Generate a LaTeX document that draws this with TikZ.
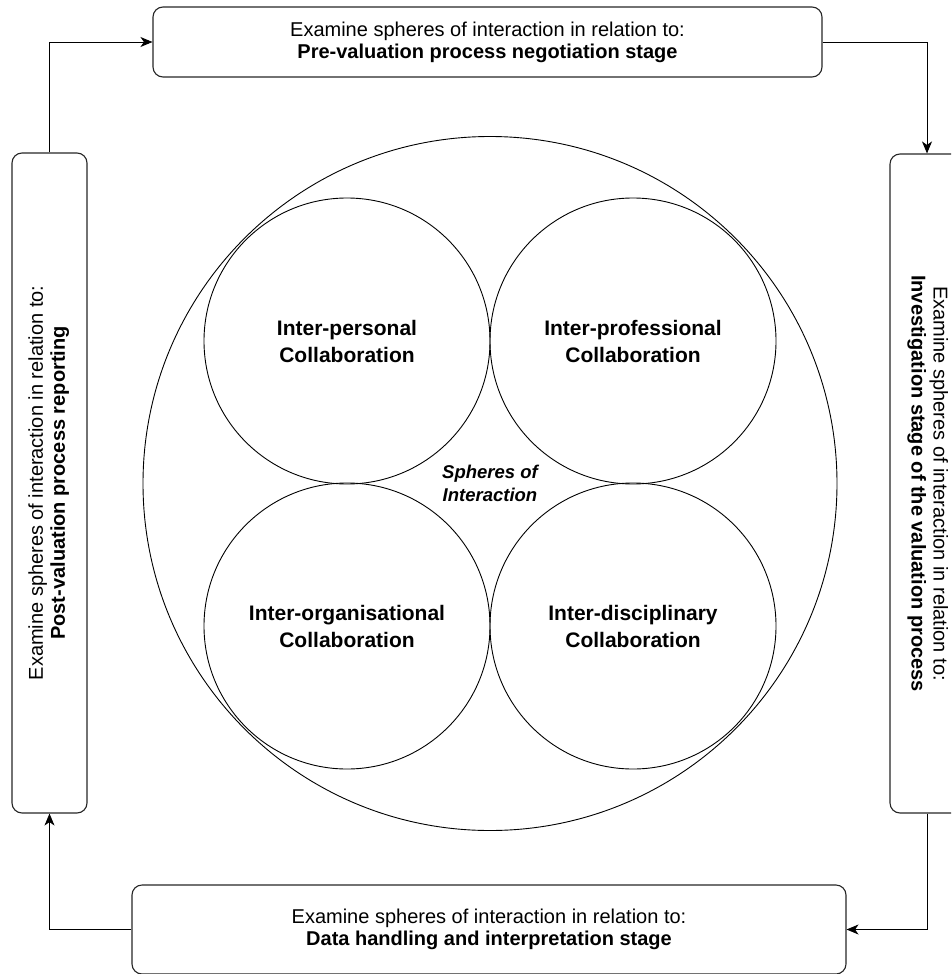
\documentclass[tikz,border=0pt]{standalone}
\usepackage{fontspec}
\setmainfont{Liberation Sans}
\usetikzlibrary{arrows.meta,positioning}

\tikzset{
  stage/.style={draw=black!85, line width=1.1pt, rounded corners=10pt, align=center,
    inner sep=0pt, font=\fontsize{20}{22}\selectfont},
  sphere/.style={circle, draw, line width=0.9pt, minimum size=286pt, inner sep=0pt,
    align=center, font=\fontsize{21}{27}\selectfont\bfseries},
  flow/.style={-{Stealth[length=12pt,width=10pt,inset=3.5pt]}, line width=0.9pt},
}

\begin{document}
\begin{tikzpicture}[x=1pt,y=-1pt]
    \useasboundingbox (0,0) rectangle (951,974);
    \clip (0,0) rectangle (951,974);
    % the four stages round the spheres
    \node[stage, minimum width=669pt, minimum height=70pt] (pre) at (487.5,42)
      {Examine spheres of interaction in relation to:\\\textbf{Pre-valuation process negotiation stage}};
    \node[stage, minimum width=74pt, minimum height=659pt] (inv) at (927,483.5)
      {\rotatebox{-90}{\begin{tabular}{c}Examine spheres of interaction in relation to:\\\textbf{Investigation stage of the valuation process}\end{tabular}}};
    \node[stage, minimum width=714pt, minimum height=89pt] (data) at (489,929.5)
      {Examine spheres of interaction in relation to:\\\textbf{Data handling and interpretation stage}};
    \node[stage, minimum width=75pt, minimum height=660pt] (post) at (49.5,483)
      {\rotatebox{90}{\begin{tabular}{c}Examine spheres of interaction in relation to:\\\textbf{Post-valuation process reporting}\end{tabular}}};
    % spheres of interaction
    \node[circle, draw, line width=0.9pt, minimum size=694pt, inner sep=0pt, align=center,
      font=\fontsize{18.5}{23}\selectfont\bfseries\itshape] (whole) at (490,483.5) {Spheres of\\Interaction};
    \node[sphere] (personal) at (347,341) {Inter-personal\\Collaboration};
    \node[sphere] (professional) at (633,341) {Inter-professional\\Collaboration};
    \node[sphere] (organisational) at (347,626) {Inter-organisational\\Collaboration};
    \node[sphere] (disciplinary) at (633,626) {Inter-disciplinary\\Collaboration};
    % cycle
    \draw[flow] (post.north) |- (pre.west);
    \draw[flow] (pre.east) -| (inv.north);
    \draw[flow] (inv.south) |- (data.east);
    \draw[flow] (data.west) -| (post.south);
\end{tikzpicture}
\end{document}
